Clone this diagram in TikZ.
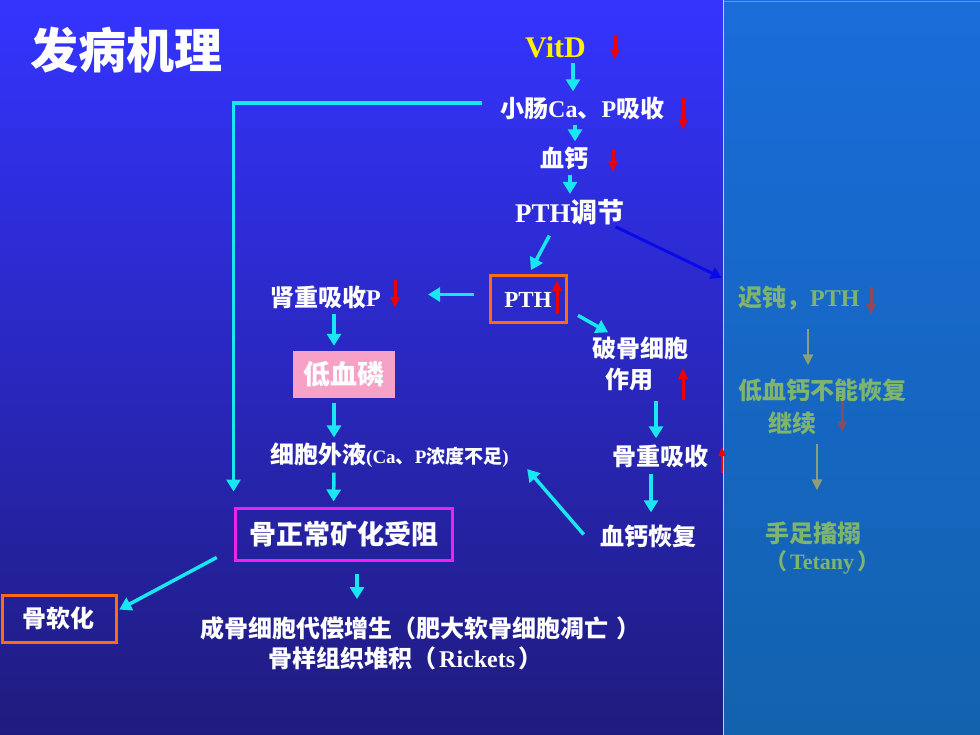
\documentclass[tikz,border=0pt]{standalone}
\usepackage{fontspec}
\setmainfont{Liberation Serif}
\newfontfamily\cjk{Noto Sans CJK SC}
\usepackage{xcolor}
\usetikzlibrary{positioning, arrows.meta}
\newcommand{\zh}[1]{{\cjk #1}}

\definecolor{cyanline}{HTML}{19E6F0}
\definecolor{redmark}{HTML}{F00000}
\definecolor{greentext}{HTML}{7FB46F}
\definecolor{greyarrow}{HTML}{8E9E78}
\definecolor{brownmark}{HTML}{8C4A5C}
\definecolor{pinkfill}{HTML}{F7A0C8}
\definecolor{orangeline}{HTML}{FF6A13}
\definecolor{magline}{HTML}{EE22EE}
\definecolor{deepblue}{HTML}{0A0AE8}
\definecolor{bgtop}{HTML}{3434FF}
\definecolor{bgmid}{HTML}{2A28C8}
\definecolor{bgbottom}{HTML}{1F1B7E}
\definecolor{paneltop}{HTML}{1A6CDA}
\definecolor{panelbottom}{HTML}{1262AE}
\definecolor{divider}{HTML}{A8D8F8}
\definecolor{paneledge}{HTML}{5A96E6}

\tikzset{
  lbl/.style={text=white, inner sep=0pt, anchor=west, font=\bfseries\fontsize{24}{28}\selectfont},
  lblbig/.style={font=\bfseries\fontsize{27}{32}\selectfont},
  sidelbl/.style={lbl, text=greentext},
  flow/.style={draw=cyanline, line width=3.5pt, -{Triangle[width=14pt,length=12pt]}, shorten <=5pt, shorten >=5pt},
  sideflow/.style={draw=greyarrow, line width=2.8pt, -{Triangle[width=10pt,length=11pt]}},
  downmark/.style={draw=redmark, line width=3pt, -{Triangle[width=9pt,length=11pt]}},
  framed/.style={draw=orangeline, line width=3pt, text=white, inner sep=0pt},
}

\begin{document}
\begin{tikzpicture}[x=1pt, y=-1pt]
  \useasboundingbox (0,0) rectangle (980,735);
  % Background
  \shade[top color=bgtop, middle color=bgmid, bottom color=bgbottom] (0,0) rectangle (723,735);
  \shade[top color=paneltop, bottom color=panelbottom] (723,0) rectangle (980,735);
  \draw[divider, line width=1.5pt] (723.5,0) -- (723.5,735);
  \draw[paneledge, line width=1pt] (724,1.5) -- (980,1.5);

  % Title
  \node[lbl, font=\bfseries\fontsize{48}{54}\selectfont] (title) at (30,50) {\zh{发病机理}};

  % Main chain
  \node[lbl, text=yellow, font=\bfseries\fontsize{30}{34}\selectfont] (vitd) at (525,47) {VitD};
  \node[lbl] (xc) at (500,108) {\zh{小肠}Ca\zh{、}P\zh{吸收}};
  \node[lbl] (xg) at (540,158) {\zh{血钙}};
  \node[lbl, lblbig] (pthr) at (515,212) {PTH\zh{调节}};
  \node[framed, minimum width=76pt, minimum height=47pt, font=\bfseries\fontsize{23}{26}\selectfont] (pth) at (528,299.5) {PTH\hspace{6pt}};
  \node[lbl] (sc) at (270,297) {\zh{肾重吸收}P};
  \node[fill=pinkfill, text=white, inner sep=0pt, minimum width=102pt, minimum height=47pt, font=\bfseries\fontsize{27}{32}\selectfont] (lp) at (344,374.5) {\zh{低血磷}};
  \node[lbl] (po) at (592,348) {\zh{破骨细胞}};
  \node[lbl] (zy) at (605,379) {\zh{作用}};
  \node[lbl] (gz) at (612,456) {\zh{骨重吸收}};
  \node[lbl] (ghf) at (600,536) {\zh{血钙恢复}};
  \node[lbl] (xb) at (270,455) {\zh{细胞外液}\fontsize{19}{22}\selectfont(Ca\zh{、}P\zh{浓度不足})};
  \node[draw=magline, line width=3pt, text=white, inner sep=0pt, minimum width=217pt, minimum height=52pt, lblbig] (gzc) at (343.5,534) {\zh{骨正常矿化受阻}};
  \node[framed, minimum width=114pt, minimum height=47pt, font=\bfseries\fontsize{24}{28}\selectfont] (grh) at (59,618.5) {\zh{骨软化}};
  \node[lbl] (cg1) at (200,628) {\zh{成骨细胞代偿增生（肥大软骨细胞凋亡}\hspace{8pt}\zh{）}};
  \node[lbl] (cg2) at (268,658) {\zh{骨样组织堆积（}\hspace{3pt}Rickets\hspace{3pt}\zh{）}};

  % Right panel
  \node[sidelbl] (cd) at (738,298) {\zh{迟钝，}PTH};
  \node[sidelbl] (dg) at (738,390) {\zh{低血钙不能恢复}};
  \node[sidelbl] (jx) at (768,423) {\zh{继续}};
  \node[sidelbl] (sz) at (765,533) {\zh{手足搐搦}};
  \node[sidelbl, font=\bfseries\fontsize{22}{26}\selectfont] (tt) at (765,562) {\zh{（}\hspace{3pt}Tetany\hspace{3pt}\zh{）}};

  % Connectors
  \draw[flow] ([xshift=48pt]vitd.south west) -- ([xshift=73pt]xc.north west);
  \draw[flow] ([xshift=75pt]xc.south west) -- ([xshift=35pt]xg.north west);
  \draw[flow] ([xshift=30pt]xg.south west) -- ([xshift=55pt]pthr.north west);
  \draw[flow, shorten <=12pt] ([xshift=40pt]pthr.south west) -- ([xshift=40pt]pth.north west);
  \draw[draw=deepblue, line width=3pt, -{Triangle[width=12pt,length=11pt]}, shorten <=4pt, shorten >=18pt] ([xshift=97pt]pthr.south west) -- (cd.north west);
  \draw[flow, shorten <=15pt, shorten >=47pt] ([yshift=5pt]pth.west) -- ([yshift=5pt]pth.west -| sc.east);
  \draw[flow, shorten <=12pt, shorten >=8pt] ([yshift=-10pt]pth.east) -- ([xshift=23pt]po.north west);
  \draw[flow] ([xshift=64pt]sc.south west) -- ([xshift=-10pt]lp.north);
  \draw[flow] ([xshift=-10pt]lp.south) -- ([xshift=64pt]xb.north west);
  \draw[flow] ([xshift=64pt]xb.south west) -- ([xshift=-10pt]gzc.north);
  \draw[flow, shorten <=10pt, shorten >=6pt] ([xshift=51pt]zy.south west) -- ([xshift=44pt]gz.north west);
  \draw[flow, shorten <=6pt, shorten >=12pt] ([xshift=39pt]gz.south west) -- ([xshift=51pt]ghf.north west);
  \draw[flow, shorten <=2pt, shorten >=2pt] ([xshift=-15pt]ghf.west) -- ([xshift=17pt]xb.south east);
  \draw[flow, shorten <=18pt, shorten >=15pt] ([yshift=5pt]xc.west) -| (gzc.north west);
  \draw[flow, shorten <=2pt, shorten >=2pt] ([xshift=-15pt,yshift=5pt]gzc.south west) -- ([yshift=8pt]grh.east);
  \draw[flow, shorten <=12pt, shorten >=17pt] ([xshift=13.5pt]gzc.south) -- ([xshift=157pt]cg1.north west);
  \draw[sideflow, shorten <=19pt, shorten >=13pt] ([xshift=70pt]cd.south west) -- ([xshift=70pt]dg.north west);
  \draw[sideflow, shorten <=9pt, shorten >=31pt] ([xshift=49pt]jx.south west) -- ([xshift=52pt]sz.north west);

  % Up and down marks
  \foreach \x/\a/\b in {615/35/60, 683/97/130, 613/150/172, 395/280/308}
    \draw[downmark] (\x,\a) -- (\x,\b);
  \foreach \x/\a/\b in {557/314/280, 683/400/368}
    \draw[downmark] (\x,\a) -- (\x,\b);
  \draw[downmark, line width=2pt, -{Triangle[width=7pt,length=9pt]}] (722,473) -- (722,447);
  \foreach \x/\a/\b in {871/287/315, 842/402/432}
    \draw[downmark, draw=brownmark] (\x,\a) -- (\x,\b);
\end{tikzpicture}
\end{document}
